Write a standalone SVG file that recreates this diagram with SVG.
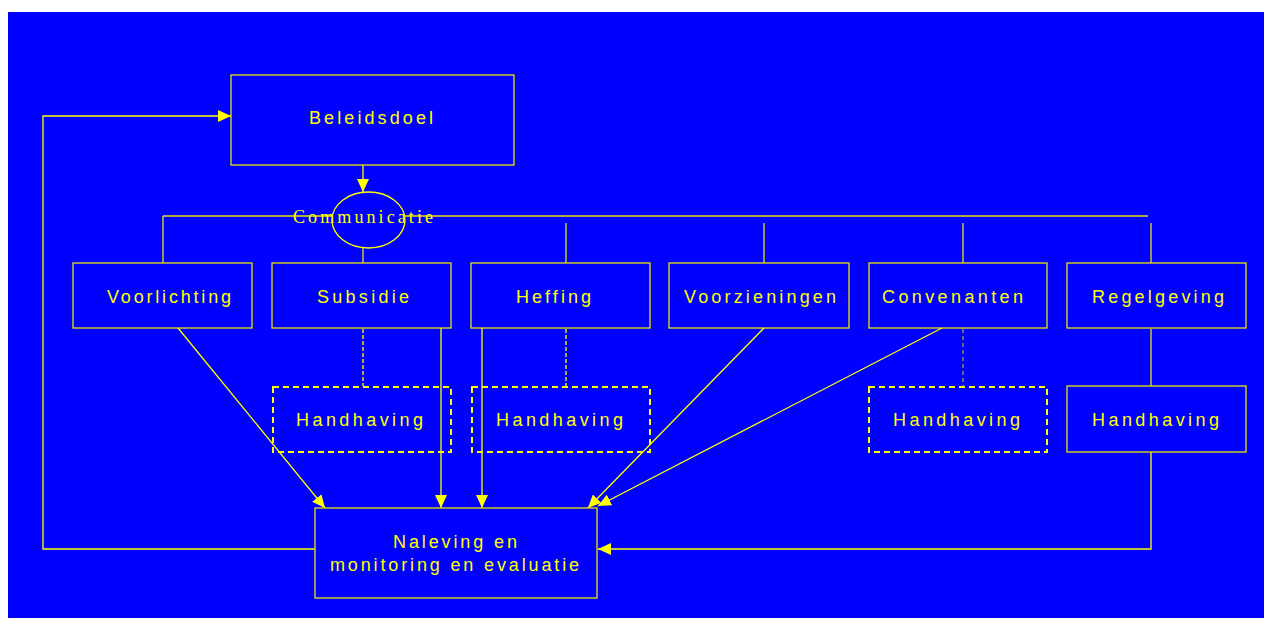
<svg xmlns="http://www.w3.org/2000/svg" width="1268" height="618" viewBox="0 0 1268 618">
<defs>
<marker id="ah" markerUnits="userSpaceOnUse" markerWidth="14" markerHeight="12" refX="13" refY="6" orient="auto">
<path d="M0,0 L13,6 L0,12 z" fill="#FFFF00"/>
</marker>
<style>
.box{fill:#0000FF;stroke:#E6E600;stroke-width:1.3}
.dbox{fill:#0000FF;stroke:#FFFF00;stroke-width:2;stroke-dasharray:6 4}
.ln{fill:none;stroke:#E6E600;stroke-width:1.3}
.ar{fill:none;stroke:#FFFF00;stroke-width:1.3;marker-end:url(#ah)}
.dl{fill:none;stroke:#E6E600;stroke-width:1.5;stroke-dasharray:4 2}
.dl2{fill:none;stroke:#D0D000;stroke-width:1;stroke-dasharray:4 3}
.t{font-family:"Liberation Sans",Arial,sans-serif;font-size:18px;fill:#FFFF00}
.ts{font-family:"Liberation Serif","Times New Roman",serif;font-size:18px;fill:#FFFF00}
</style>
</defs>
<rect x="8" y="12" width="1256" height="606" fill="#0000FF"/>
<g id="connectors">
<polyline class="ar" points="315,549 43,549 43,116 231,116"/>
<line class="ar" x1="363" y1="165" x2="363" y2="192"/>
<line class="ln" x1="163" y1="216" x2="1148" y2="216"/>
<line class="ln" x1="163" y1="216" x2="163" y2="263"/>
<line class="ln" x1="363" y1="248" x2="363" y2="263"/>
<line class="ln" x1="566" y1="223" x2="566" y2="263"/>
<line class="ln" x1="764" y1="223" x2="764" y2="263"/>
<line class="ln" x1="963" y1="223" x2="963" y2="263"/>
<line class="ln" x1="1151" y1="223" x2="1151" y2="263"/>
<line class="dl" x1="363" y1="329" x2="363" y2="386"/>
<line class="dl" x1="566" y1="329" x2="566" y2="386"/>
<line class="dl2" x1="963" y1="329" x2="963" y2="386"/>
<line class="ln" x1="1151" y1="329" x2="1151" y2="386"/>
<polyline class="ar" points="1151,452 1151,549 598,549"/>
</g>
<g id="beleidsdoel"><rect class="box" x="231" y="75" width="283" height="90"/><text class="t" x="309" y="124" textLength="124" lengthAdjust="spacing">Beleidsdoel</text></g>
<g id="communicatie"><ellipse fill="#0000FF" stroke="#FFFF00" stroke-width="1.3" cx="368.5" cy="220" rx="36.5" ry="28"/><text class="ts" x="293" y="223" textLength="140" lengthAdjust="spacing">Communicatie</text></g>
<g id="voorlichting"><rect class="box" x="73" y="263" width="179" height="65"/><text class="t" x="107" y="303" textLength="124" lengthAdjust="spacing">Voorlichting</text></g>
<g id="subsidie"><rect class="box" x="272" y="263" width="179" height="65"/><text class="t" x="317" y="303" textLength="92" lengthAdjust="spacing">Subsidie</text></g>
<g id="heffing"><rect class="box" x="471" y="263" width="179" height="65"/><text class="t" x="516" y="303" textLength="75" lengthAdjust="spacing">Heffing</text></g>
<g id="voorzieningen"><rect class="box" x="669" y="263" width="180" height="65"/><text class="t" x="684" y="303" textLength="152" lengthAdjust="spacing">Voorzieningen</text></g>
<g id="convenanten"><rect class="box" x="869" y="263" width="178" height="65"/><text class="t" x="882" y="303" textLength="141" lengthAdjust="spacing">Convenanten</text></g>
<g id="regelgeving"><rect class="box" x="1067" y="263" width="179" height="65"/><text class="t" x="1092" y="303" textLength="132" lengthAdjust="spacing">Regelgeving</text></g>
<g id="handhaving1"><rect class="dbox" x="273" y="387" width="178" height="65"/><text class="t" x="296" y="426" textLength="127" lengthAdjust="spacing">Handhaving</text></g>
<g id="handhaving2"><rect class="dbox" x="472" y="387" width="178" height="65"/><text class="t" x="496" y="426" textLength="127" lengthAdjust="spacing">Handhaving</text></g>
<g id="handhaving3"><rect class="dbox" x="869" y="387" width="178" height="65"/><text class="t" x="893" y="426" textLength="127" lengthAdjust="spacing">Handhaving</text></g>
<g id="handhaving4"><rect class="box" x="1067" y="386" width="179" height="66"/><text class="t" x="1092" y="426" textLength="127" lengthAdjust="spacing">Handhaving</text></g>
<g id="arrows">
<line class="ar" x1="178" y1="328" x2="325" y2="508"/>
<line class="ar" x1="441" y1="328" x2="441" y2="508"/>
<line class="ar" x1="482" y1="328" x2="482" y2="508"/>
<line class="ar" x1="764" y1="328" x2="588" y2="508"/>
<line class="ar" x1="942" y1="328" x2="598" y2="506"/>
</g>
<g id="naleving"><rect class="box" x="315" y="508" width="282" height="90"/><text class="t" x="393" y="548" textLength="124" lengthAdjust="spacing">Naleving en</text><text class="t" x="330" y="571" textLength="249" lengthAdjust="spacing">monitoring en evaluatie</text></g>
</svg>
